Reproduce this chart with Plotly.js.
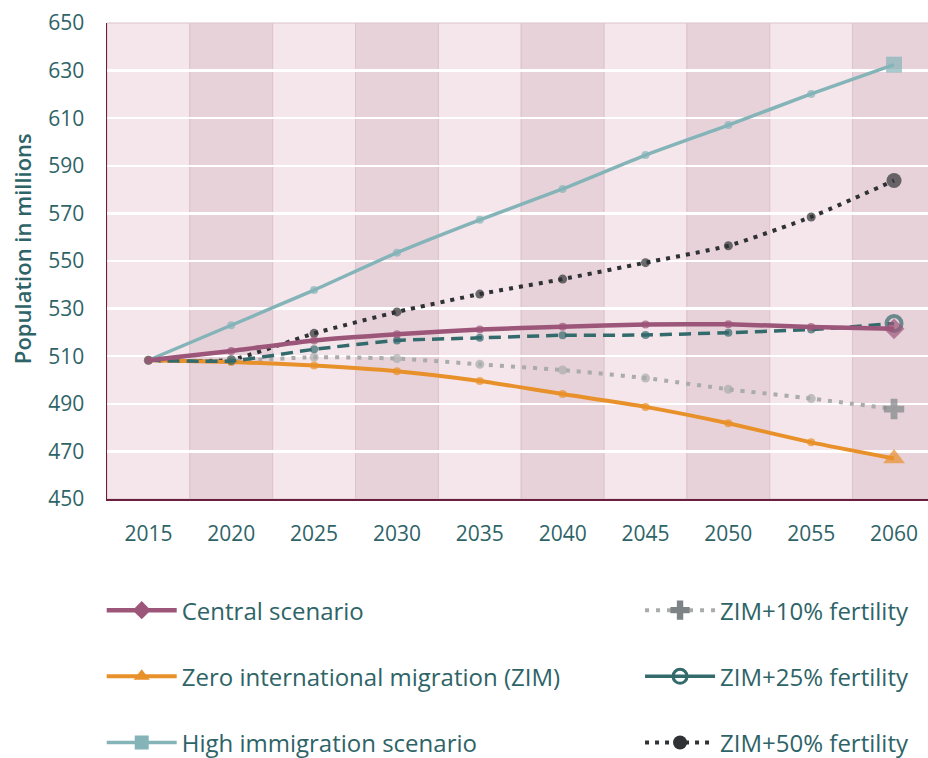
<!DOCTYPE html>
<html>
<head>
<meta charset="utf-8">
<script src="https://cdn.plot.ly/plotly-3.0.1.min.js"></script>
<style>html,body{margin:0;padding:0;background:#fff;}#chart{width:928px;height:758px;}</style>
</head>
<body>
<div id="chart"></div>
<script>
const years = [2015, 2020, 2025, 2030, 2035, 2040, 2045, 2050, 2055, 2060];
const centralScenario = [508.3, 512.2, 516.6, 519.2, 521.2, 522.4, 523.3, 523.4, 522.3, 521.5];
const zeroMigration = [508.3, 507.6, 506.1, 503.7, 499.6, 494.1, 488.7, 481.8, 473.8, 467.0];
const highImmigration = [508.3, 523.0, 537.8, 553.5, 567.3, 580.3, 594.5, 607.1, 620.2, 632.5];
const zim10 = [508.3, 508.0, 509.6, 509.0, 506.6, 504.2, 500.8, 496.1, 492.2, 487.8];
const zim25 = [508.3, 508.0, 512.9, 516.6, 517.7, 518.8, 518.9, 519.9, 521.2, 523.7];
const zim50 = [508.3, 508.5, 519.6, 528.6, 536.1, 542.4, 549.3, 556.4, 568.5, 583.8];
const seriesNames = ["Central scenario", "Zero international migration (ZIM)", "High immigration scenario",
  "ZIM+10% fertility", "ZIM+25% fertility", "ZIM+50% fertility"];
const yTicks = [450, 470, 490, 510, 530, 550, 570, 590, 610, 630, 650];
const yTitle = "Population in millions";

const FONT = "'Open Sans', Lato, sans-serif";
const TXT = "#2e6467";

function sizes(small, big) { return years.map((y, i) => i === years.length - 1 ? big : small); }

const styles = [
  {color: "#9c5679", width: 4.5, dash: "solid", sym: "diamond", ms: 8, mb: 16, mcol: "#9c5679"},
  {color: "#e8902a", width: 4, dash: "solid", sym: "triangle-up", ms: 8, mb: 19, mcol: "#e8902a"},
  {color: "#84b4b8", width: 3.5, dash: "solid", sym: "square", ms: 8, mb: 16, mcol: "#84b4b8"},
  {color: "#aaabab", width: 4, dash: "4px,7px", sym: "cross", ms: 9, mb: 17, mcol: "#aaabab", endcol: "#7e8486"},
  {color: "#336a6c", width: 3.5, dash: "12px,7px", sym: "circle-open", ms: 8, mb: 15, mcol: "#336a6c"},
  {color: "#2f3234", width: 4, dash: "4px,6px", sym: "circle", ms: 9, mb: 15, mcol: "#2f3234"}
];
const seriesData = [centralScenario, zeroMigration, highImmigration, zim10, zim25, zim50];

const traces = [];
const drawOrder = [2, 5, 3, 1, 4, 0];
drawOrder.forEach(k => {
  const s = styles[k];
  const colors = years.map((y, i) => (i === years.length - 1 && s.endcol) ? s.endcol : s.mcol);
  const symbols = years.map((y, i) => i === years.length - 1 ? s.sym : "circle");
  traces.push({
    x: years, y: seriesData[k], type: "scatter", mode: "lines+markers", name: seriesNames[k],
    showlegend: false, cliponaxis: false,
    line: {color: s.color, width: s.width, dash: s.dash, shape: "spline", smoothing: 0.5},
    marker: {color: colors, size: sizes(s.ms, s.mb), symbol: symbols,
      line: {width: years.map((y, i) => (i === years.length - 1 && s.sym === "circle-open") ? 4 : 0), color: colors}}
  });
});
[0, 1, 2, 3, 4, 5].forEach(k => {
  const s = styles[k];
  traces.push({
    x: [null], y: [null], type: "scatter", mode: "lines+markers", name: seriesNames[k],
    legend: k < 3 ? "legend" : "legend2", legendgroup: "g" + k,
    line: {color: s.color, width: s.width, dash: k === 4 ? "solid" : s.dash},
    marker: {color: s.endcol || s.mcol, size: k === 3 ? 16 : 14, symbol: s.sym,
      line: {width: s.sym === "circle-open" ? 3 : 0, color: s.mcol}}
  });
});

const shapes = years.map((y, i) => ({
  type: "rect", xref: "x", yref: "paper", x0: y - 2.5, x1: y + 2.5, y0: 0, y1: 1, layer: "below",
  fillcolor: i % 2 === 0 ? "#f4e6ea" : "#e8d2da",
  line: {width: 1, color: "#dcc3cc"}
}));

const legendCommon = {
  xref: "container", yref: "container", xanchor: "left", yanchor: "top", orientation: "v",
  bgcolor: "rgba(0,0,0,0)", font: {family: FONT, size: 24, color: TXT},
  itemwidth: 70, tracegroupgap: 32, itemclick: false
};

const layout = {
  width: 928, height: 758,
  margin: {l: 107, r: 0, t: 23, b: 259, autoexpand: false},
  paper_bgcolor: "#ffffff", plot_bgcolor: "#f4e6ea",
  font: {family: FONT, color: TXT, size: 20},
  shapes: shapes,
  xaxis: {
    range: [2012.5, 2062.05], tickvals: years, ticktext: years.map(String),
    showgrid: false, zeroline: false, showline: true, linecolor: "#6a1f3d", linewidth: 1.5,
    ticks: "", ticklabelstandoff: 15, tickfont: {family: FONT, size: 21, color: TXT}
  },
  yaxis: {
    range: [450, 650], tickvals: yTicks, ticktext: yTicks.map(String),
    showgrid: true, gridcolor: "#ffffff", gridwidth: 2.5, zeroline: false,
    showline: true, linecolor: "#6a1f3d", linewidth: 1.5, ticks: "", ticklabelstandoff: 17,
    tickfont: {family: FONT, size: 21, color: TXT}
  },
  annotations: [{
    text: yTitle, xref: "paper", yref: "paper", x: -0.1035, y: 0.525, xanchor: "center", yanchor: "middle",
    textangle: -90, showarrow: false, font: {family: FONT, size: 22, color: TXT, weight: 600}
  }],
  legend: Object.assign({}, legendCommon, {x: 0.1096, y: 0.2242}),
  legend2: Object.assign({}, legendCommon, {x: 0.6897, y: 0.2242}),
  showlegend: true
};

Plotly.newPlot("chart", traces, layout, {displayModeBar: false, staticPlot: true});
</script>
</body>
</html>
